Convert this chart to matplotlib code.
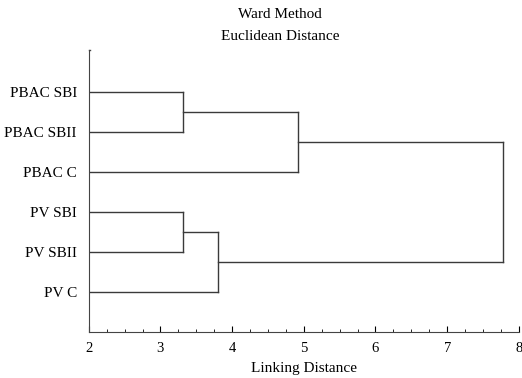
import matplotlib.pyplot as plt
from matplotlib.ticker import MultipleLocator

plt.rcParams['font.family'] = ['Liberation Serif', 'DejaVu Serif']

# leaves from top to bottom
labels = ['PBAC SBI', 'PBAC SBII', 'PBAC C', 'PV SBI', 'PV SBII', 'PV C']
# merges: (left cluster, right cluster, linking distance); clusters 6.. are new
merges = [(0, 1, 3.31), (3, 4, 3.31), (6, 2, 4.92), (7, 5, 3.80), (8, 9, 7.78)]
x_start = 2.0

fig = plt.figure(figsize=(5.22, 3.78), dpi=100)
ax = fig.add_axes([0.170, 0.122, 0.824, 0.746])

pos = {i: (x_start, i + 1) for i in range(len(labels))}
lc = '#3a3a3a'
for k, (a, b, h) in enumerate(merges):
    xa, ya = pos[a]
    xb, yb = pos[b]
    ax.plot([xa, h], [ya, ya], color=lc, lw=1.0)
    ax.plot([xb, h], [yb, yb], color=lc, lw=1.0)
    ax.plot([h, h], [ya, yb], color=lc, lw=1.0)
    pos[len(labels) + k] = (h, (ya + yb) / 2)

ax.set_xlim(2, 8)
ax.set_ylim(7.0, -0.05)
ax.set_yticks(range(1, len(labels) + 1))
ax.set_yticklabels(labels, fontsize=11)
ax.tick_params(axis='y', length=0, pad=8.5)
ax.xaxis.set_major_locator(MultipleLocator(1))
ax.xaxis.set_minor_locator(MultipleLocator(0.25))
ax.tick_params(axis='x', which='major', direction='in', length=4, labelsize=10.5, pad=7)
ax.tick_params(axis='x', which='minor', direction='in', length=2)
for s in ['top', 'right']:
    ax.spines[s].set_visible(False)
for s in ['left', 'bottom']:
    ax.spines[s].set_color('#444444')
ax.plot([2, 2.02], [-0.05, -0.05], color='#444444', lw=1, clip_on=False)
ax.set_xlabel('Linking Distance', fontsize=11, labelpad=5)
fig.text(0.536, 1 - 15 / 378, 'Ward Method', ha='center', va='center', fontsize=11)
fig.text(0.536, 1 - 37 / 378, 'Euclidean Distance', ha='center', va='center', fontsize=11)

fig.savefig('out.png', dpi=100)
